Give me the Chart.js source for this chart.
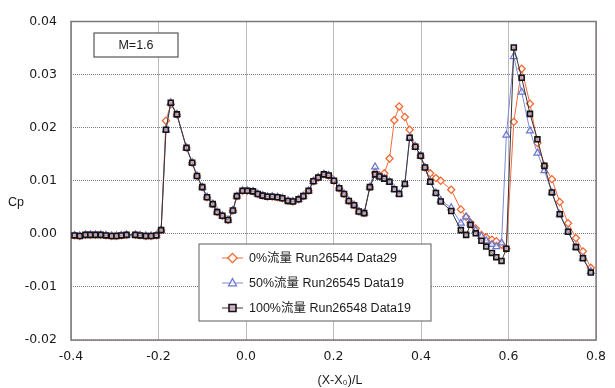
<!DOCTYPE html>
<html>
<head>
<meta charset="utf-8">
<script src="https://cdn.jsdelivr.net/npm/chart.js@4.4.0/dist/chart.umd.min.js"></script>
<style>
  body { margin: 0; background: #fff; }
  #wrap { width: 615px; height: 388px; }
</style>
</head>
<body>
<div id="wrap"><canvas id="mycanvas" width="615" height="388"></canvas></div>
<script>
// x positions of the pressure taps, (X-X0)/L
var xPos = [-0.392,-0.380,-0.367,-0.356,-0.344,-0.332,-0.320,-0.307,-0.296,-0.285,-0.273,-0.253,-0.242,-0.229,-0.217,-0.205,-0.194,
  -0.183,-0.172,-0.158,-0.136,-0.123,-0.112,-0.100,-0.089,-0.076,-0.066,
  -0.054,-0.041,-0.030,-0.021,-0.008,0.003,0.016,0.027,0.038,0.049,
  0.060,0.072,0.083,0.096,0.107,0.120,0.131,0.143,0.154,0.165,
  0.178,0.189,0.201,0.213,0.224,0.235,0.247,0.258,0.270,0.283,
  0.295,0.305,0.316,0.328,0.339,0.350,0.363,0.374,0.387,0.399,
  0.409,0.421,0.434,0.445,0.469,0.491,0.503,0.513,0.525,0.538,
  0.549,0.562,0.572,0.584,0.595,0.612,0.630,0.649,0.666,0.682,
  0.699,0.717,0.736,0.754,0.770,0.788];

// Cp, 100% flow (Run26548 Data19)
var cp100 = [-0.0003,-0.0004,-0.0002,-0.0002,-0.0002,-0.0002,-0.0003,-0.0004,-0.0004,-0.0003,-0.0002,-0.0002,-0.0003,-0.0004,-0.0004,-0.0003,0.0007,
  0.0196,0.0247,0.0225,0.0162,0.0134,0.0109,0.0088,0.0069,0.0056,0.0041,
  0.0034,0.0026,0.0044,0.0071,0.0081,0.0081,0.0080,0.0075,0.0072,0.0070,
  0.0070,0.0069,0.0067,0.0062,0.0061,0.0065,0.0071,0.0081,0.0099,0.0106,
  0.0112,0.0110,0.0100,0.0086,0.0075,0.0062,0.0054,0.0042,0.0039,0.0088,
  0.0112,0.0108,0.0104,0.0098,0.0084,0.0075,0.0094,0.0181,0.0164,0.0147,
  0.0125,0.0098,0.0077,0.0061,0.0043,0.0007,-0.0002,0.0017,0.0001,-0.0013,
  -0.0024,-0.0036,-0.0044,-0.0051,-0.0028,0.0351,0.0294,0.0226,0.0178,0.0128,
  0.0078,0.0037,0.0004,-0.0025,-0.0046,-0.0073];

// Cp, 50% flow (Run26545 Data19)
var cp50 = [-0.0003,-0.0004,-0.0002,-0.0002,-0.0002,-0.0002,-0.0003,-0.0004,-0.0004,-0.0003,-0.0002,-0.0002,-0.0003,-0.0004,-0.0004,-0.0003,0.0007,
  0.0196,0.0247,0.0225,0.0162,0.0134,0.0109,0.0088,0.0069,0.0056,0.0041,
  0.0034,0.0026,0.0044,0.0071,0.0081,0.0081,0.0080,0.0075,0.0072,0.0070,
  0.0070,0.0069,0.0067,0.0062,0.0061,0.0065,0.0071,0.0081,0.0099,0.0106,
  0.0112,0.0110,0.0100,0.0086,0.0075,0.0062,0.0054,0.0042,0.0039,0.0088,
  0.0126,0.0108,0.0104,0.0098,0.0084,0.0075,0.0094,0.0181,0.0164,0.0147,
  0.0125,0.0098,0.0077,0.0063,0.0049,0.0020,0.0032,0.0020,0.0006,-0.0005,
  -0.0013,-0.0020,-0.0024,-0.0017,0.0186,0.0334,0.0267,0.0194,0.0152,0.0119,
  0.0078,0.0037,0.0004,-0.0025,-0.0046,-0.0071];

// Cp, 0% flow (Run26544 Data29)
var cp0 = [-0.0003,-0.0004,-0.0002,-0.0002,-0.0002,-0.0002,-0.0003,-0.0004,-0.0004,-0.0003,-0.0002,-0.0002,-0.0003,-0.0004,-0.0004,-0.0003,0.0007,
  0.0213,0.0244,0.0225,0.0162,0.0134,0.0109,0.0088,0.0069,0.0056,0.0041,
  0.0034,0.0026,0.0044,0.0071,0.0081,0.0081,0.0080,0.0075,0.0072,0.0070,
  0.0070,0.0069,0.0067,0.0062,0.0061,0.0065,0.0071,0.0081,0.0099,0.0106,
  0.0112,0.0110,0.0100,0.0086,0.0075,0.0062,0.0054,0.0042,0.0039,0.0088,
  0.0115,0.0110,0.0114,0.0142,0.0214,0.0240,0.0220,0.0196,0.0165,0.0147,
  0.0125,0.0114,0.0105,0.0100,0.0083,0.0046,0.0032,0.0021,0.0010,-0.0002,
  -0.0007,-0.0011,-0.0014,-0.0020,-0.0028,0.0211,0.0311,0.0245,0.0171,0.0128,
  0.0103,0.0060,0.0020,-0.0008,-0.0033,-0.0064];

var seriesLabels = ['0%流量 Run26544 Data29', '50%流量 Run26545 Data19', '100%流量 Run26548 Data19'];
var machLabel = 'M=1.6';

function pts(ys) {
  return xPos.map(function (x, i) { return { x: x, y: ys[i] }; });
}

var FONT = "'DejaVu Sans', 'Noto Sans CJK JP', sans-serif";
var LFONT = "'Liberation Sans', 'Noto Sans CJK JP', sans-serif";

var styles = [
  { line: '#f26a3c', point: '#f0642e', fill: '#fff6f0', shape: 'rectRot', r: 3.6, bw: 1.2 },
  { line: '#7c8ad8', point: '#6676cc', fill: 'rgba(255,255,255,0.6)', shape: 'triangle', r: 4, bw: 1.2 },
  { line: '#3c3434', point: '#141414', fill: 'rgba(200,165,190,0.8)', shape: 'rect', r: 3.5, bw: 1.6 }
];

function marker(ctx, st, x, y) {
  ctx.save();
  ctx.strokeStyle = st.point;
  ctx.fillStyle = st.fill;
  ctx.lineWidth = st.bw;
  ctx.beginPath();
  var r = st.r;
  if (st.shape === 'rect') {
    ctx.rect(x - r, y - r, 2 * r, 2 * r);
  } else if (st.shape === 'rectRot') {
    ctx.moveTo(x, y - r * 1.3); ctx.lineTo(x + r * 1.3, y); ctx.lineTo(x, y + r * 1.3); ctx.lineTo(x - r * 1.3, y); ctx.closePath();
  } else {
    ctx.moveTo(x, y - r * 1.1); ctx.lineTo(x + r, y + r * 0.7); ctx.lineTo(x - r, y + r * 0.7); ctx.closePath();
  }
  ctx.fill(); ctx.stroke();
  ctx.restore();
}

var extras = {
  id: 'extras',
  beforeDatasetsDraw: function (chart) {
    var a = chart.chartArea, ctx = chart.ctx;
    ctx.save();
    ctx.strokeStyle = '#7e7878';
    ctx.lineWidth = 1.5;
    ctx.strokeRect(a.left, a.top, a.right - a.left, a.bottom - a.top);
    ctx.restore();
  },
  afterDraw: function (chart) {
    var ctx = chart.ctx;
    ctx.save();
    // M=1.6 box
    ctx.fillStyle = '#ffffff';
    ctx.fillRect(94, 33, 84, 24);
    ctx.strokeStyle = '#555';
    ctx.lineWidth = 1.2;
    ctx.strokeRect(94, 33, 84, 24);
    ctx.fillStyle = '#1a1a1a';
    ctx.font = '12.5px ' + LFONT;
    ctx.textAlign = 'center';
    ctx.textBaseline = 'middle';
    ctx.fillText(machLabel, 136, 45.5);

    // legend box
    ctx.fillStyle = '#ffffff';
    ctx.fillRect(199, 244, 232, 77);
    ctx.strokeStyle = '#777';
    ctx.lineWidth = 1.2;
    ctx.strokeRect(199, 244, 232, 77);
    var rows = [258, 283, 308];
    ctx.font = '12.5px ' + LFONT;
    ctx.textAlign = 'left';
    for (var i = 0; i < 3; i++) {
      var st = styles[i], y = rows[i];
      ctx.strokeStyle = st.line;
      ctx.lineWidth = 1;
      ctx.beginPath(); ctx.moveTo(222, y); ctx.lineTo(243, y); ctx.stroke();
      marker(ctx, st, 232.5, y);
      ctx.fillStyle = '#1a1a1a';
      ctx.fillText(seriesLabels[i], 249, y + 0.5);
    }

    // axis titles
    ctx.font = '12.5px ' + LFONT;
    ctx.textAlign = 'center';
    ctx.fillStyle = '#1a1a1a';
    ctx.fillText('Cp', 16, 203);
    ctx.fillText('(X-X\u2080)/L', 340, 381);
    ctx.restore();
  }
};

var datasets = [0, 1, 2].map(function (i) {
  var st = styles[i];
  return {
    label: seriesLabels[i],
    data: pts([cp0, cp50, cp100][i]),
    showLine: true,
    borderColor: st.line,
    borderWidth: 1,
    pointStyle: st.shape,
    pointRadius: st.r,
    pointBorderColor: st.point,
    pointBackgroundColor: st.fill,
    pointBorderWidth: st.bw,
    order: 2 - i
  };
});

var ctx = document.getElementById('mycanvas');
var mycanvas = new Chart(ctx, {
  type: 'scatter',
  data: { datasets: datasets },
  plugins: [extras],
  options: {
    responsive: false,
    animation: false,
    layout: { padding: { left: 0, right: 5, top: 16, bottom: 0 } },
    plugins: { legend: { display: false }, tooltip: { enabled: false } },
    scales: {
      x: {
        type: 'linear', min: -0.4, max: 0.8,
        afterFit: function (s) { s.height = 48; },
        ticks: {
          stepSize: 0.2, padding: 9, color: '#1a1a1a',
          font: { family: FONT, size: 12.5 },
          callback: function (v) { return (Math.abs(v) < 1e-9 ? 0 : v).toFixed(1); }
        },
        grid: { color: '#7a7a7a', lineWidth: 1, drawTicks: false },
        border: { display: false, dash: [1, 1] }
      },
      y: {
        type: 'linear', min: -0.02, max: 0.04,
        afterFit: function (s) { s.width = 71; },
        ticks: {
          stepSize: 0.01, padding: 14, color: '#1a1a1a',
          font: { family: FONT, size: 12.5 },
          callback: function (v) { return (Math.abs(v) < 1e-9 ? 0 : v).toFixed(2); }
        },
        grid: { color: '#7a7a7a', lineWidth: 1, drawTicks: false },
        border: { display: false, dash: [1, 1] }
      }
    }
  }
});
</script>
</body>
</html>
